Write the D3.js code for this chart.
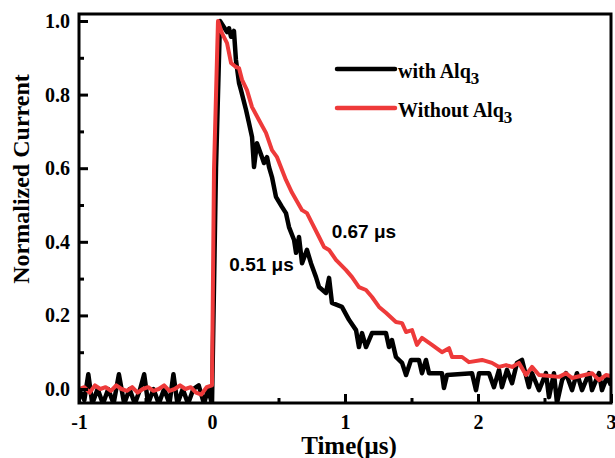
<!DOCTYPE html>
<html><head><meta charset="utf-8">
<script src="https://cdn.jsdelivr.net/npm/d3@7"></script>
<style>html,body{margin:0;padding:0;background:#fff;}svg{display:block;}</style>
</head><body>
<svg id="chart" width="615" height="458"></svg>
<script>
// ---- data ----
const timeBlack = [-1.00,-0.96,-0.93,-0.90,-0.86,-0.82,-0.78,-0.74,-0.70,-0.66,-0.62,-0.58,-0.54,-0.51,-0.48,-0.44,-0.40,-0.36,-0.32,-0.29,-0.26,-0.22,-0.18,-0.14,-0.10,-0.06,-0.03,0.00,
  0.03,0.06,0.113,0.128,0.143,0.165,0.18,0.203,0.218,0.256,0.278,0.301,0.316,0.338,0.376,0.391,0.414,0.429,0.451,0.481,0.526,0.556,0.579,0.617,0.632,0.654,0.677,0.714,0.744,0.782,0.805,0.857,0.88,0.902,0.977,1.03,1.083,1.105,1.128,1.158,1.203,1.308,1.331,1.353,1.383,1.429,1.459,1.496,1.556,1.579,1.609,1.632,1.729,1.744,1.767,1.955,1.985,2.008,2.083,2.12,2.158,2.18,2.218,2.256,2.293,2.331,2.383,2.406,2.459,2.511,2.534,2.571,2.594,2.632,2.662,2.707,2.744,2.782,2.835,2.857,2.91,2.932,2.97,3.0];
const currentBlack = [0.00,-0.03,0.04,-0.04,0.00,-0.04,0.00,-0.04,0.04,-0.04,0.00,-0.04,0.00,0.04,-0.04,0.00,-0.04,0.00,-0.04,0.04,-0.04,0.00,-0.04,0.00,0.01,-0.04,0.00,-0.04,
  0.60,1.00,0.97,0.98,0.957,0.973,0.894,0.832,0.812,0.758,0.723,0.685,0.603,0.668,0.63,0.614,0.63,0.603,0.576,0.522,0.495,0.478,0.44,0.405,0.37,0.413,0.342,0.378,0.342,0.304,0.277,0.261,0.302,0.234,0.223,0.188,0.16,0.114,0.152,0.114,0.152,0.152,0.114,0.133,0.087,0.071,0.038,0.079,0.079,0.043,0.079,0.043,0.043,0.003,0.038,0.043,-0.003,0.043,0.043,0.005,0.052,0.005,0.052,0.016,0.071,0.079,0.005,0.043,-0.003,0.043,-0.022,0.043,-0.038,0.024,0.043,-0.003,0.043,-0.003,0.043,-0.003,0.043,-0.003,0.033,0.01];

const timeRed = [-1.00,-0.96,-0.92,-0.88,-0.84,-0.80,-0.76,-0.72,-0.68,-0.64,-0.60,-0.56,-0.52,-0.48,-0.44,-0.40,-0.36,-0.32,-0.28,-0.24,-0.20,-0.16,-0.12,-0.08,-0.04,0.00,
  0.015,0.045,0.075,0.113,0.143,0.18,0.203,0.226,0.263,0.301,0.353,0.406,0.451,0.489,0.556,0.602,0.677,0.714,0.752,0.805,0.842,0.88,0.932,1.008,1.053,1.105,1.158,1.203,1.256,1.308,1.383,1.429,1.459,1.504,1.541,1.579,1.654,1.729,1.782,1.805,1.88,1.932,2.03,2.105,2.158,2.211,2.256,2.308,2.361,2.406,2.459,2.609,2.662,2.707,2.857,2.91,2.962,3.0];
const currentRed = [0.00,0.005,-0.01,0.01,0.00,0.005,-0.005,0.01,0.00,-0.005,0.005,-0.01,0.00,0.005,-0.005,0.00,0.01,-0.005,0.00,0.01,0.00,0.005,-0.01,-0.015,0.005,0.01,
  0.595,1.00,0.967,0.94,0.886,0.875,0.872,0.84,0.812,0.766,0.731,0.696,0.649,0.63,0.568,0.533,0.486,0.478,0.451,0.413,0.386,0.378,0.351,0.323,0.304,0.277,0.269,0.25,0.223,0.207,0.182,0.179,0.155,0.16,0.12,0.139,0.12,0.10,0.111,0.087,0.087,0.073,0.079,0.071,0.06,0.065,0.06,0.071,0.038,0.06,0.038,0.033,0.043,0.03,0.043,0.024,0.038,0.035];

const xMajorTicks = [-1, 0, 1, 2, 3];
const xTickLabels = ["-1", "0", "1", "2", "3"];
const xMinorTicks = [-0.5, 0.5, 1.5, 2.5];
const yMajorTicks = [0.0, 0.2, 0.4, 0.6, 0.8, 1.0];
const yTickLabels = ["0.0", "0.2", "0.4", "0.6", "0.8", "1.0"];
const yMinorTicks = [0.1, 0.3, 0.5, 0.7, 0.9];
const seriesNames = ["with Alq", "Without Alq"];
const annotations = [{text: "0.51 μs", t: 0.13, v: 0.32}, {text: "0.67 μs", t: 0.90, v: 0.41}];

// ---- layout ----
const svg = d3.select("#chart");
const pLeft = 79, pRight = 611, pTop = 14, pBottom = 403;
const x = d3.scaleLinear().domain([-1, 3]).range([pLeft, pRight]);
const y = d3.scaleLinear().domain([-0.038, 1.019]).range([pBottom, pTop]);
const serif = "'Liberation Serif','Times New Roman',serif";
const sans = "'Liberation Sans',Arial,sans-serif";

svg.append("clipPath").attr("id", "clip").append("rect")
  .attr("x", pLeft).attr("y", pTop).attr("width", pRight - pLeft).attr("height", pBottom - pTop);

const line = d3.line().x(d => x(d[0])).y(d => y(d[1]));
const blackData = timeBlack.map((t, i) => [t, currentBlack[i]]);
const redData = timeRed.map((t, i) => [t, currentRed[i]]);

const plot = svg.append("g").attr("clip-path", "url(#clip)");
plot.append("path").datum(blackData).attr("d", line)
  .attr("fill", "none").attr("stroke", "#000").attr("stroke-width", 4.5).attr("stroke-linejoin", "round");
plot.append("path").datum(redData).attr("d", line)
  .attr("fill", "none").attr("stroke", "#ee3a3a").attr("stroke-width", 4).attr("stroke-linejoin", "round");

// axes
const xAxis = d3.axisBottom(x).tickValues(xMajorTicks).tickFormat((d, i) => xTickLabels[i])
  .tickSizeInner(-9).tickSizeOuter(0).tickPadding(12);
const gx = svg.append("g").attr("transform", `translate(0,${pBottom})`).call(xAxis);
const gxm = svg.append("g").attr("transform", `translate(0,${pBottom})`)
  .call(d3.axisBottom(x).tickValues(xMinorTicks).tickFormat("").tickSizeInner(-5).tickSizeOuter(0));
const yAxis = d3.axisLeft(y).tickValues(yMajorTicks).tickFormat((d, i) => yTickLabels[i])
  .tickSizeInner(-9).tickSizeOuter(0).tickPadding(9);
const gy = svg.append("g").attr("transform", `translate(${pLeft},0)`).call(yAxis);
const gym = svg.append("g").attr("transform", `translate(${pLeft},0)`)
  .call(d3.axisLeft(y).tickValues(yMinorTicks).tickFormat("").tickSizeInner(-5).tickSizeOuter(0));
[gx, gxm, gy, gym].forEach(g => {
  g.select(".domain").remove();
  g.selectAll(".tick line").attr("stroke", "#000").attr("stroke-width", 3);
  g.selectAll("text").attr("fill", "#000").style("font-family", serif)
    .style("font-weight", "bold").style("font-size", "20px");
});

// frame
svg.append("rect").attr("x", pLeft).attr("y", pTop).attr("width", pRight - pLeft).attr("height", pBottom - pTop)
  .attr("fill", "none").attr("stroke", "#000").attr("stroke-width", 3);

// titles
svg.append("text").attr("x", (pLeft + pRight) / 2 + 4).attr("y", 454).attr("text-anchor", "middle")
  .style("font-family", serif).style("font-weight", "bold").style("font-size", "25px").text("Time(μs)");
svg.append("text").attr("transform", "translate(29,179) rotate(-90)").attr("text-anchor", "middle")
  .style("font-family", serif).style("font-weight", "bold").style("font-size", "24px").text("Normalized Current");

// legend
const legendColors = ["#000", "#ee3a3a"];
seriesNames.forEach((name, i) => {
  const ly = 69 + i * 39;
  svg.append("line").attr("x1", 337).attr("x2", 395).attr("y1", ly).attr("y2", ly)
    .attr("stroke", legendColors[i]).attr("stroke-width", 4.5).attr("stroke-linecap", "round");
  const t = svg.append("text").attr("x", 398).attr("y", ly + 9)
    .style("font-family", serif).style("font-weight", "bold").style("font-size", "20px");
  t.append("tspan").text(name);
  t.append("tspan").attr("dy", 6).style("font-size", "17px").text("3");
});

// annotations
annotations.forEach(a => {
  svg.append("text").attr("x", x(a.t)).attr("y", y(a.v))
    .style("font-family", sans).style("font-weight", "bold").style("font-size", "19px").text(a.text);
});
</script>
</body></html>
